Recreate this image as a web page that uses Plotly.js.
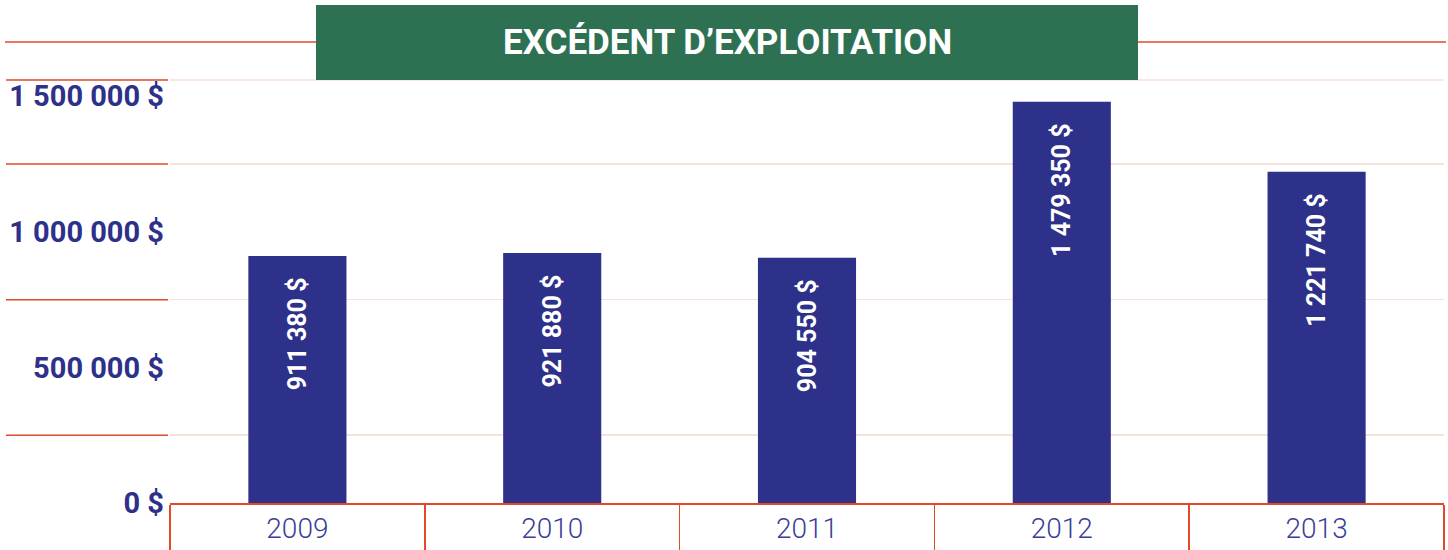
<!DOCTYPE html>
<html>
<head>
<meta charset="utf-8">
<script src="https://cdn.plot.ly/plotly-3.0.1.min.js"></script>
<style>html,body{margin:0;padding:0;background:#fff;}#chart{width:1448px;height:550px;}</style>
</head>
<body>
<div id="chart"></div>
<script>
const years = ['2009', '2010', '2011', '2012', '2013'];
const excedent = [911380, 921880, 904550, 1479350, 1221740];
const chartTitle = 'EXCÉDENT D’EXPLOITATION';
const yTickValues = [0, 500000, 1000000, 1500000];
const yTickLabels = ['0 $', '500 000 $', '1 000 000 $', '1 500 000 $'];

const NAVY = '#2e3189';
const RED = '#e2492b';
const PINK = '#f8e1da';
const GREEN = '#2e7152';
const BOLDF = 'Roboto, "Liberation Sans", sans-serif';
const NBSP = '\u00a0';

const trace = {
  type: 'bar',
  x: years,
  y: excedent,
  width: 0.385,
  marker: {color: NAVY},
  texttemplate: '%{y:,.0f} $' + NBSP + NBSP + NBSP,
  textposition: 'inside',
  insidetextanchor: 'end',
  textangle: -90,
  constraintext: 'none',
  insidetextfont: {family: BOLDF, size: 25, color: '#ffffff', weight: 'bold'},
  hoverinfo: 'skip'
};

const px = v => (v - 170) / 1274;      // decorative paper coords
const py = v => (503 - v) / 423;

// band separators halfway between the labelled ticks
const bandLines = yTickValues.slice(0, -1).map((v, i) => (v + yTickValues[i + 1]) / 2);
const bandShapes = bandLines.map(v => ({
  type: 'line', xref: 'paper', yref: 'y', x0: px(6), x1: px(168), y0: v, y1: v,
  line: {color: RED, width: 1.5}
}));

const layout = {
  width: 1448,
  height: 550,
  margin: {l: 170, r: 4, t: 80, b: 47},
  paper_bgcolor: '#ffffff',
  plot_bgcolor: '#ffffff',
  separators: ', ',
  showlegend: false,
  xaxis: {
    type: 'category',
    tickson: 'boundaries',
    ticks: 'outside',
    ticklen: 47,
    tickwidth: 1.5,
    tickcolor: RED,
    showline: true,
    linecolor: RED,
    linewidth: 1.5,
    showgrid: false,
    tickfont: {family: 'Roboto, sans-serif', size: 28, color: '#3b3e98', weight: 300}
  },
  yaxis: {
    range: [0, 1560000],
    tickvals: yTickValues,
    ticktext: yTickLabels,
    ticks: '',
    ticklabelstandoff: 5,
    showgrid: false,
    zeroline: false,
    showline: false,
    tickfont: {family: BOLDF, size: 29, color: NAVY, weight: 'bold'},
    minor: {
      tickvals: bandLines,
      ticks: '',
      showgrid: true,
      gridcolor: PINK,
      gridwidth: 1.5
    }
  },
  shapes: [
    {type: 'rect', xref: 'paper', yref: 'paper', x0: px(316), x1: px(1138), y0: py(80), y1: py(5),
     fillcolor: GREEN, line: {width: 0}, layer: 'above'},
    {type: 'line', xref: 'paper', yref: 'paper', x0: px(5), x1: px(316), y0: py(42), y1: py(42),
     line: {color: RED, width: 1.5}},
    {type: 'line', xref: 'paper', yref: 'paper', x0: px(1138), x1: px(1446), y0: py(42), y1: py(42),
     line: {color: RED, width: 1.5}},
    {type: 'line', xref: 'paper', yref: 'paper', x0: 0, x1: 1, y0: 1, y1: 1,
     line: {color: PINK, width: 1.5}, layer: 'below'},
    {type: 'line', xref: 'paper', yref: 'paper', x0: px(6), x1: px(168), y0: 1, y1: 1,
     line: {color: RED, width: 1.5}}
  ].concat(bandShapes),
  annotations: [
    {xref: 'paper', yref: 'paper', x: (px(316) + px(1138)) / 2, y: py(42),
     xanchor: 'center', yanchor: 'middle', showarrow: false, text: chartTitle,
     font: {family: BOLDF, size: 35, color: '#ffffff', weight: 'bold'}}
  ]
};

Plotly.newPlot('chart', [trace], layout, {displayModeBar: false, staticPlot: true});
</script>
</body>
</html>
